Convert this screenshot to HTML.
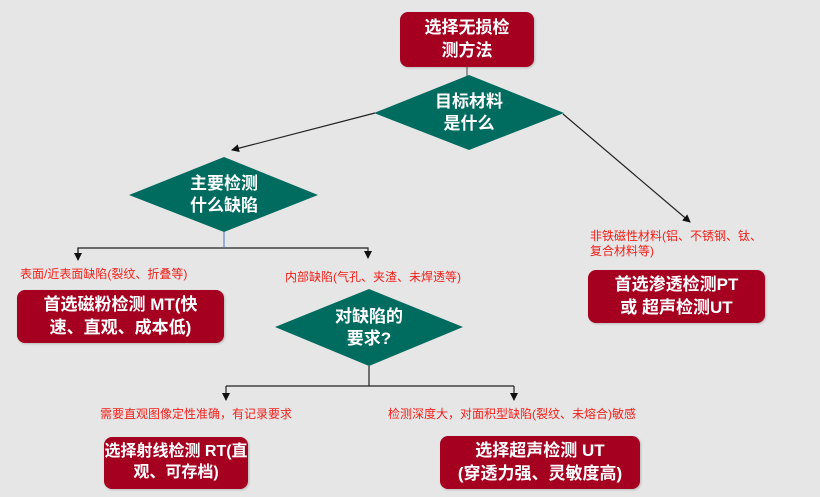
<!DOCTYPE html>
<html><head><meta charset="utf-8"><style>
body{margin:0;width:820px;height:497px;background:#e7e6e6;position:relative;overflow:hidden;font-family:"Liberation Sans","Noto Sans CJK SC",sans-serif}
.b{position:absolute;background:#a5001f;border-radius:8px;color:#fff;font-weight:bold;display:flex;align-items:center;justify-content:center;text-align:center;line-height:1.3;font-size:17px;white-space:nowrap;box-shadow:1px 1px 2px rgba(0,0,0,.2)}
.l{position:absolute;color:#f0201a;font-size:12px;white-space:nowrap;line-height:15px}
svg{position:absolute;left:0;top:0}
</style></head><body>
<svg width="820" height="497">
<defs><marker id="a" markerWidth="8" markerHeight="8" refX="7" refY="4" orient="auto" markerUnits="userSpaceOnUse"><path d="M0,0L8,4L0,8z" fill="#111"/></marker></defs>
<line x1="467" y1="67" x2="467" y2="76" stroke="#444"/>
<polygon points="469,75 564,113 469,150 374,113" fill="#006b5f"/>
<polygon points="224,157 318,195 224,232 129,195" fill="#006b5f"/>
<polygon points="369,289 463,327 369,366 275,327" fill="#006b5f"/>
<g stroke="#222" stroke-width="1.2" fill="none">
<line x1="375" y1="113" x2="232" y2="150" marker-end="url(#a)"/>
<line x1="563" y1="114" x2="690" y2="222" marker-end="url(#a)"/>
<polyline points="78,258 78,248 368,248 368,258" marker-end="url(#a)"/>
<line x1="78" y1="248" x2="78" y2="260" marker-end="url(#a)"/>
<line x1="369" y1="366" x2="369" y2="386"/>
<line x1="226" y1="386" x2="514" y2="386"/>
<line x1="226" y1="386" x2="226" y2="400" marker-end="url(#a)"/>
<line x1="514" y1="386" x2="514" y2="400" marker-end="url(#a)"/>
</g>
<line x1="224" y1="232" x2="224" y2="248" stroke="#4a72c4"/>
<g fill="#fff" font-weight="bold" font-size="17" text-anchor="middle" font-family="Liberation Sans,Noto Sans CJK SC,sans-serif">
<text x="469" y="107">目标材料</text><text x="469" y="129">是什么</text>
<text x="224" y="189">主要检测</text><text x="224" y="211">什么缺陷</text>
<text x="369" y="322">对缺陷的</text><text x="369" y="344">要求?</text>
</g>
</svg>
<div class="b" style="left:400px;top:12px;width:134px;height:55px">选择无损检<br>测方法</div>
<div class="b" style="left:17px;top:290px;width:207px;height:53px">首选磁粉检测 MT(快<br>速、直观、成本低)</div>
<div class="b" style="left:588px;top:270px;width:177px;height:53px">首选渗透检测PT<br>或 超声检测UT</div>
<div class="b" style="left:104px;top:437px;width:144px;height:52px;font-size:16px">选择射线检测 RT(直<br>观、可存档)</div>
<div class="b" style="left:440px;top:436px;width:200px;height:53px">选择超声检测 UT<br>(穿透力强、灵敏度高)</div>
<div class="l" style="left:20px;top:267px">表面/近表面缺陷(裂纹、折叠等)</div>
<div class="l" style="left:285px;top:270px">内部缺陷(气孔、夹渣、未焊透等)</div>
<div class="l" style="left:590px;top:229px">非铁磁性材料(铝、不锈钢、钛、<br>复合材料等)</div>
<div class="l" style="left:100px;top:407px">需要直观图像定性准确，有记录要求</div>
<div class="l" style="left:388px;top:407px">检测深度大，对面积型缺陷(裂纹、未熔合)敏感</div>
</body></html>
